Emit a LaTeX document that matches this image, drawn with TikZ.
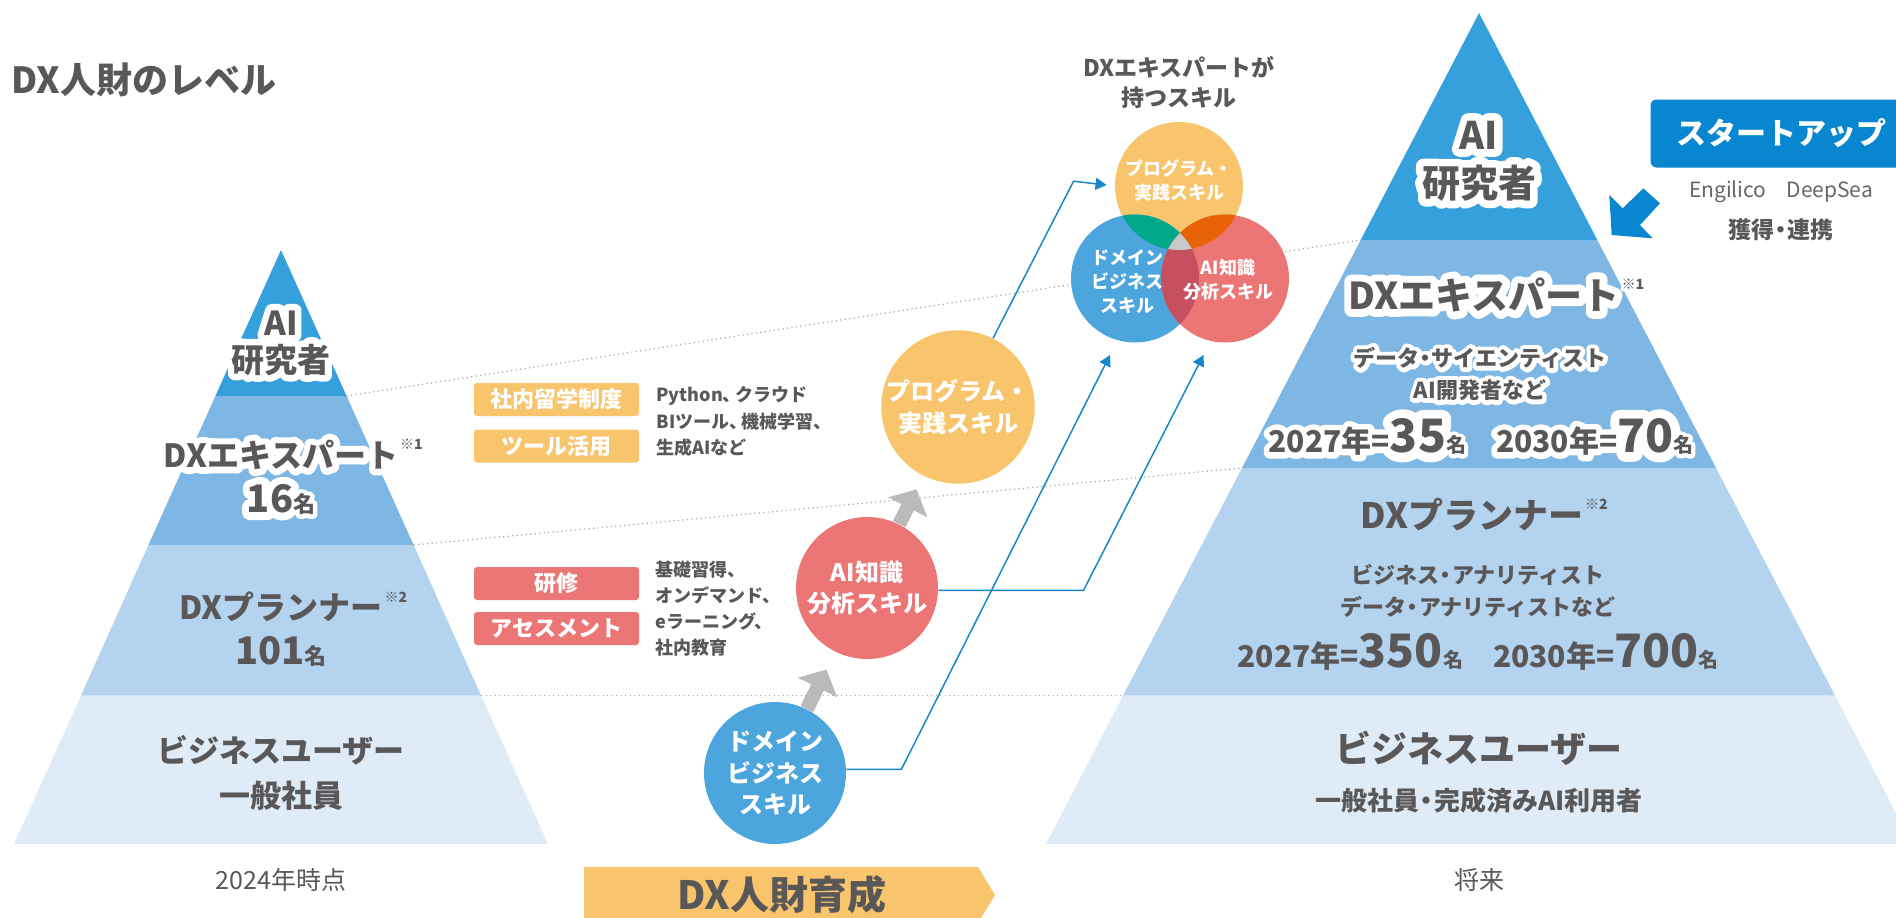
\documentclass[tikz,border=0pt]{standalone}
\usepackage{fontspec}
\usepackage{tikz}
\usetikzlibrary{arrows.meta}
\newfontfamily\jp{Noto Sans CJK JP}
\newfontfamily\jph{Noto Sans CJK JP}[FakeBold=40, BoldFeatures={FakeBold=40}]
\definecolor{ink}{RGB}{89,87,87}
\definecolor{lv1}{RGB}{53,160,219}
\definecolor{lv2}{RGB}{126,183,227}
\definecolor{lv3}{RGB}{179,211,238}
\definecolor{lv4}{RGB}{223,236,248}
\definecolor{skorange}{RGB}{248,197,108}
\definecolor{skred}{RGB}{236,117,118}
\definecolor{skblue}{RGB}{76,165,220}
\definecolor{linkblue}{RGB}{26,134,206}
\definecolor{startblue}{RGB}{8,134,207}
\definecolor{venngreen}{RGB}{0,168,140}
\definecolor{vennorange}{RGB}{232,98,8}
\definecolor{vennred}{RGB}{197,80,96}
\definecolor{venngray}{RGB}{200,200,200}
\newcommand{\fsz}[2]{\fontsize{#1}{#2}\selectfont}
\newcommand{\glowtext}[1]{\leavevmode\rlap{\color{white}\jph #1}#1}
\newcommand{\notemark}[1]{\rlap{\hspace{2pt}\raisebox{.55em}{\fsz{14}{14}※#1}}}
\newcommand{\goalnum}[2]{{\fsz{30}{30}#1年=}{\fsz{46}{46}#2}{\fsz{20}{20}名}}
\newcommand{\dotsep}{\hspace{-.22em}・\hspace{-.22em}}
\newcommand{\comma}{、\hspace{-.3em}}

\begin{document}
\begin{tikzpicture}
[x=1pt, y=-1pt, line width=1pt, line join=round,
 txt/.style={text=ink, inner sep=0pt, align=center},
 tag/.style={rounded corners=3pt, minimum width=165pt, minimum height=33pt, inner sep=0pt,
             text=white, font=\jp\bfseries\fsz{22}{22}},
 skill/.style={circle, minimum size=142pt, inner sep=0pt, text=white, align=center,
               font=\jp\bfseries\fsz{24}{31.5}},
 venn/.style={circle, minimum size=128pt, inner sep=0pt},
 vtxt/.style={txt, text=white, font=\jp\bfseries\fsz{18}{24}},
 levelline/.style={draw=black!35, line width=1.2pt, dash pattern=on 1.2pt off 3.3pt},
 upstep/.style={draw=black!27, line width=14pt, line join=miter, -{Triangle[width=44pt, length=20pt, line width=0pt]}},
 link/.style={draw=linkblue, line width=1.5pt, line join=miter, -{Triangle[width=12pt, length=11pt]}}]
\useasboundingbox (0,0) rectangle (1896,918);
\clip (0,0) rectangle (1896,918);
\fill[white] (0,0) rectangle (1896,918);
%%
\coordinate (l-ai) at (281+65.6, 396);   %% left corners
\coordinate (l-dx) at (281+132.6, 545);
\coordinate (l-pl) at (281+200, 695.5);
\coordinate (r-ai) at (1479-118.3, 240); %% right corners
\coordinate (r-dx) at (1479-237, 468);
\coordinate (r-pl) at (1479-356, 695.5);
%% left pyramid
\fill[lv1] (281,250) -- (l-ai) -- (281-65.6,396) -- cycle;
\fill[lv2] (281-65.6,396) -- (l-ai) -- (l-dx) -- (281-132.6,545) -- cycle;
\fill[lv3] (281-132.6,545) -- (l-dx) -- (l-pl) -- (281-200,695.5) -- cycle;
\fill[lv4] (281-200,695.5) -- (l-pl) -- (281+267,844) -- (281-267,844) -- cycle;
%% right pyramid
\fill[lv1] (1479,13) -- (1479+118.3,240) -- (r-ai) -- cycle;
\fill[lv2] (r-ai) -- (1479+118.3,240) -- (1479+237,468) -- (r-dx) -- cycle;
\fill[lv3] (r-dx) -- (1479+237,468) -- (1479+356,695.5) -- (r-pl) -- cycle;
\fill[lv4] (r-pl) -- (1479+356,695.5) -- (1479+433,844) -- (1479-433,844) -- cycle;
%% level lines
\draw[levelline] (l-ai) -- (r-ai);
\draw[levelline] (l-dx) -- (r-dx);
\draw[levelline] (l-pl) -- (r-pl);
%%
\node (title) at (11, 80) [right, txt, font=\jp\bfseries\fsz{36}{36}] {DX人財のレベル};
%% left texts
\node (l-ai-t) at (281, 343) [txt, font=\jp\bfseries\fsz{33}{37}] {\glowtext{AI}\\\glowtext{研究者}};
\node (l-dx-t) at (281, 477) [txt, font=\jp\bfseries\fsz{32}{45}]
  {\glowtext{DXエキスパート\notemark{1}}\\\glowtext{\fsz{38}{45}16\fsz{22}{45}名}};
\node (l-pl-t) at (281, 629.5) [txt, font=\jp\bfseries\fsz{32}{45}]
  {DXプランナー\notemark{2}\\{\fsz{38}{45}101\fsz{22}{45}名}};
\node (l-bu-t) at (281, 772.5) [txt, font=\jp\bfseries\fsz{31}{45}] {ビジネスユーザー\\一般社員};
\node (l-year) at (281, 880) [txt, font=\jp\fsz{25}{25}] {2024年時点};
%% right texts
\node (r-ai-t) at (1479, 161) [txt, font=\jp\bfseries\fsz{38}{48}] {\glowtext{AI}\\\glowtext{研究者}};
\node (r-dx-t) at (1484, 295) [txt, font=\jp\bfseries\fsz{37}{37}] {\glowtext{DXエキスパート\notemark{1}}};
\node (r-dx-sub) at (1480, 374) [txt, font=\jp\bfseries\fsz{22}{32}]
  {\glowtext{データ\dotsep サイエンティスト}\\\glowtext{AI開発者など}};
\node (r-dx-num) at (1481, 437) [txt, font=\jp\bfseries]
  {\glowtext{\goalnum{2027}{35}\hspace{30pt}\goalnum{2030}{70}}};
\node (r-pl-t) at (1472, 515) [txt, font=\jp\bfseries\fsz{35}{35}] {DXプランナー\notemark{2}};
\node (r-pl-sub) at (1478, 591) [txt, font=\jp\bfseries\fsz{22}{32}]
  {ビジネス\dotsep アナリティスト\\データ\dotsep アナリティストなど};
\node (r-pl-num) at (1478, 652) [txt, font=\jp\bfseries] {\goalnum{2027}{350}\hspace{30pt}\goalnum{2030}{700}};
\node (r-bu-t) at (1479, 748) [txt, font=\jp\bfseries\fsz{36}{36}] {ビジネスユーザー};
\node (r-bu-sub) at (1479, 801) [txt, font=\jp\bfseries\fsz{26}{26}] {一般社員\dotsep 完成済みAI利用者};
\node (r-year) at (1479, 880) [txt, font=\jp\fsz{25}{25}] {将来};
%% tags
\node (tag-study)  at (556.5, 399.5) [tag, fill=skorange] {社内留学制度};
\node (tag-tool)   at (556.5, 446)   [tag, fill=skorange] {ツール活用};
\node (tag-train)  at (556.5, 583.5) [tag, fill=skred] {研修};
\node (tag-assess) at (556.5, 628.5) [tag, fill=skred] {アセスメント};
\node (list-tech) at (656, 421.5) [right, txt, align=left, font=\jp\bfseries\fsz{18}{26.5}]
  {Python\comma クラウド\\BIツール\comma 機械学習、\\生成AIなど};
\node (list-edu) at (655, 609) [right, txt, align=left, font=\jp\bfseries\fsz{18}{26}]
  {基礎習得、\\オンデマンド、\\eラーニング、\\社内教育};
%% skill steps
\node (prog) at (958, 407) [skill, fill=skorange] {プログラム・\\実践スキル};
\node (ai)   at (867, 588) [skill, fill=skred] {AI知識\\分析スキル};
\node (dom)  at (775, 773) [skill, fill=skblue] {ドメイン\\ビジネス\\スキル};
\draw[upstep, shorten >=19.6] (dom) -- (ai);
\draw[upstep, shorten >=15] (ai) -- (prog);
%% venn
\node (venn-title) at (1179, 83) [txt, font=\jp\bfseries\fsz{23}{30}] {DXエキスパートが\\持つスキル};
\node (vprog) at (1179, 186)  [venn, fill=skorange] {};
\node (vdom)  at (1135, 278.5) [venn, fill=skblue] {};
\node (vai)   at (1225, 278.5) [venn, fill=skred] {};
\begin{scope}
\clip (vprog.center) circle (64);
\fill[venngreen]  (vdom.center) circle (64);
\fill[vennorange] (vai.center) circle (64);
\end{scope}
\begin{scope}
\clip (vdom.center) circle (64);
\fill[vennred] (vai.center) circle (64);
\clip (vai.center) circle (64);
\fill[venngray] (vprog.center) circle (64);
\end{scope}
\node (vprog-t) at (1179, 180.5) [vtxt] {プログラム・\\実践スキル};
\node (vdom-t)  at (1127, 282)   [vtxt] {ドメイン\\ビジネス\\スキル};
\node (vai-t)   at (1228, 280)   [vtxt] {AI知識\\分析スキル};
%% links
\coordinate (vdom-in) at (1110, 355);
\coordinate (vai-in)  at (1203.5, 355);
\draw[link] (dom.3) -- ++(55,0) -- (vdom-in);
\draw[link] (ai.-2.5) -- ++(145,0) -- (vai-in);
\draw[link, shorten >=8pt] (prog.63) -- ++(80.5,-157) -- (vprog.west);
%% startups
\node (startup) at (1650, 99) [below right, fill=startblue, rounded corners=6pt, minimum width=262pt,
  minimum height=68pt, inner sep=0pt, text=white, font=\jp\bfseries\fsz{30}{30}] {スタートアップ};
\node (startup-co)  at (1781, 192) [txt, text=black!60, font=\jp\fsz{21}{21}] {Engilico\hspace{20pt}DeepSea};
\node (startup-act) at (1781, 230) [txt, font=\jp\bfseries\fsz{23}{23}] {獲得\dotsep 連携};
\fill[startblue] (1611.7,235) -- (1609.3,195) -- (1622.7,208.3) -- (1643.3,188.3)
  -- (1660,203.3) -- (1640,225) -- (1652.7,238.3) -- cycle; %% into pyramid
%% banner
\fill[skorange] (584,867) -- (978,867) -- (995,895) -- (978,923) -- (584,923) -- cycle;
\node (banner) at (782, 895) [txt, font=\jp\bfseries\fsz{39}{39}] {DX人財育成};
\end{tikzpicture}
\end{document}
